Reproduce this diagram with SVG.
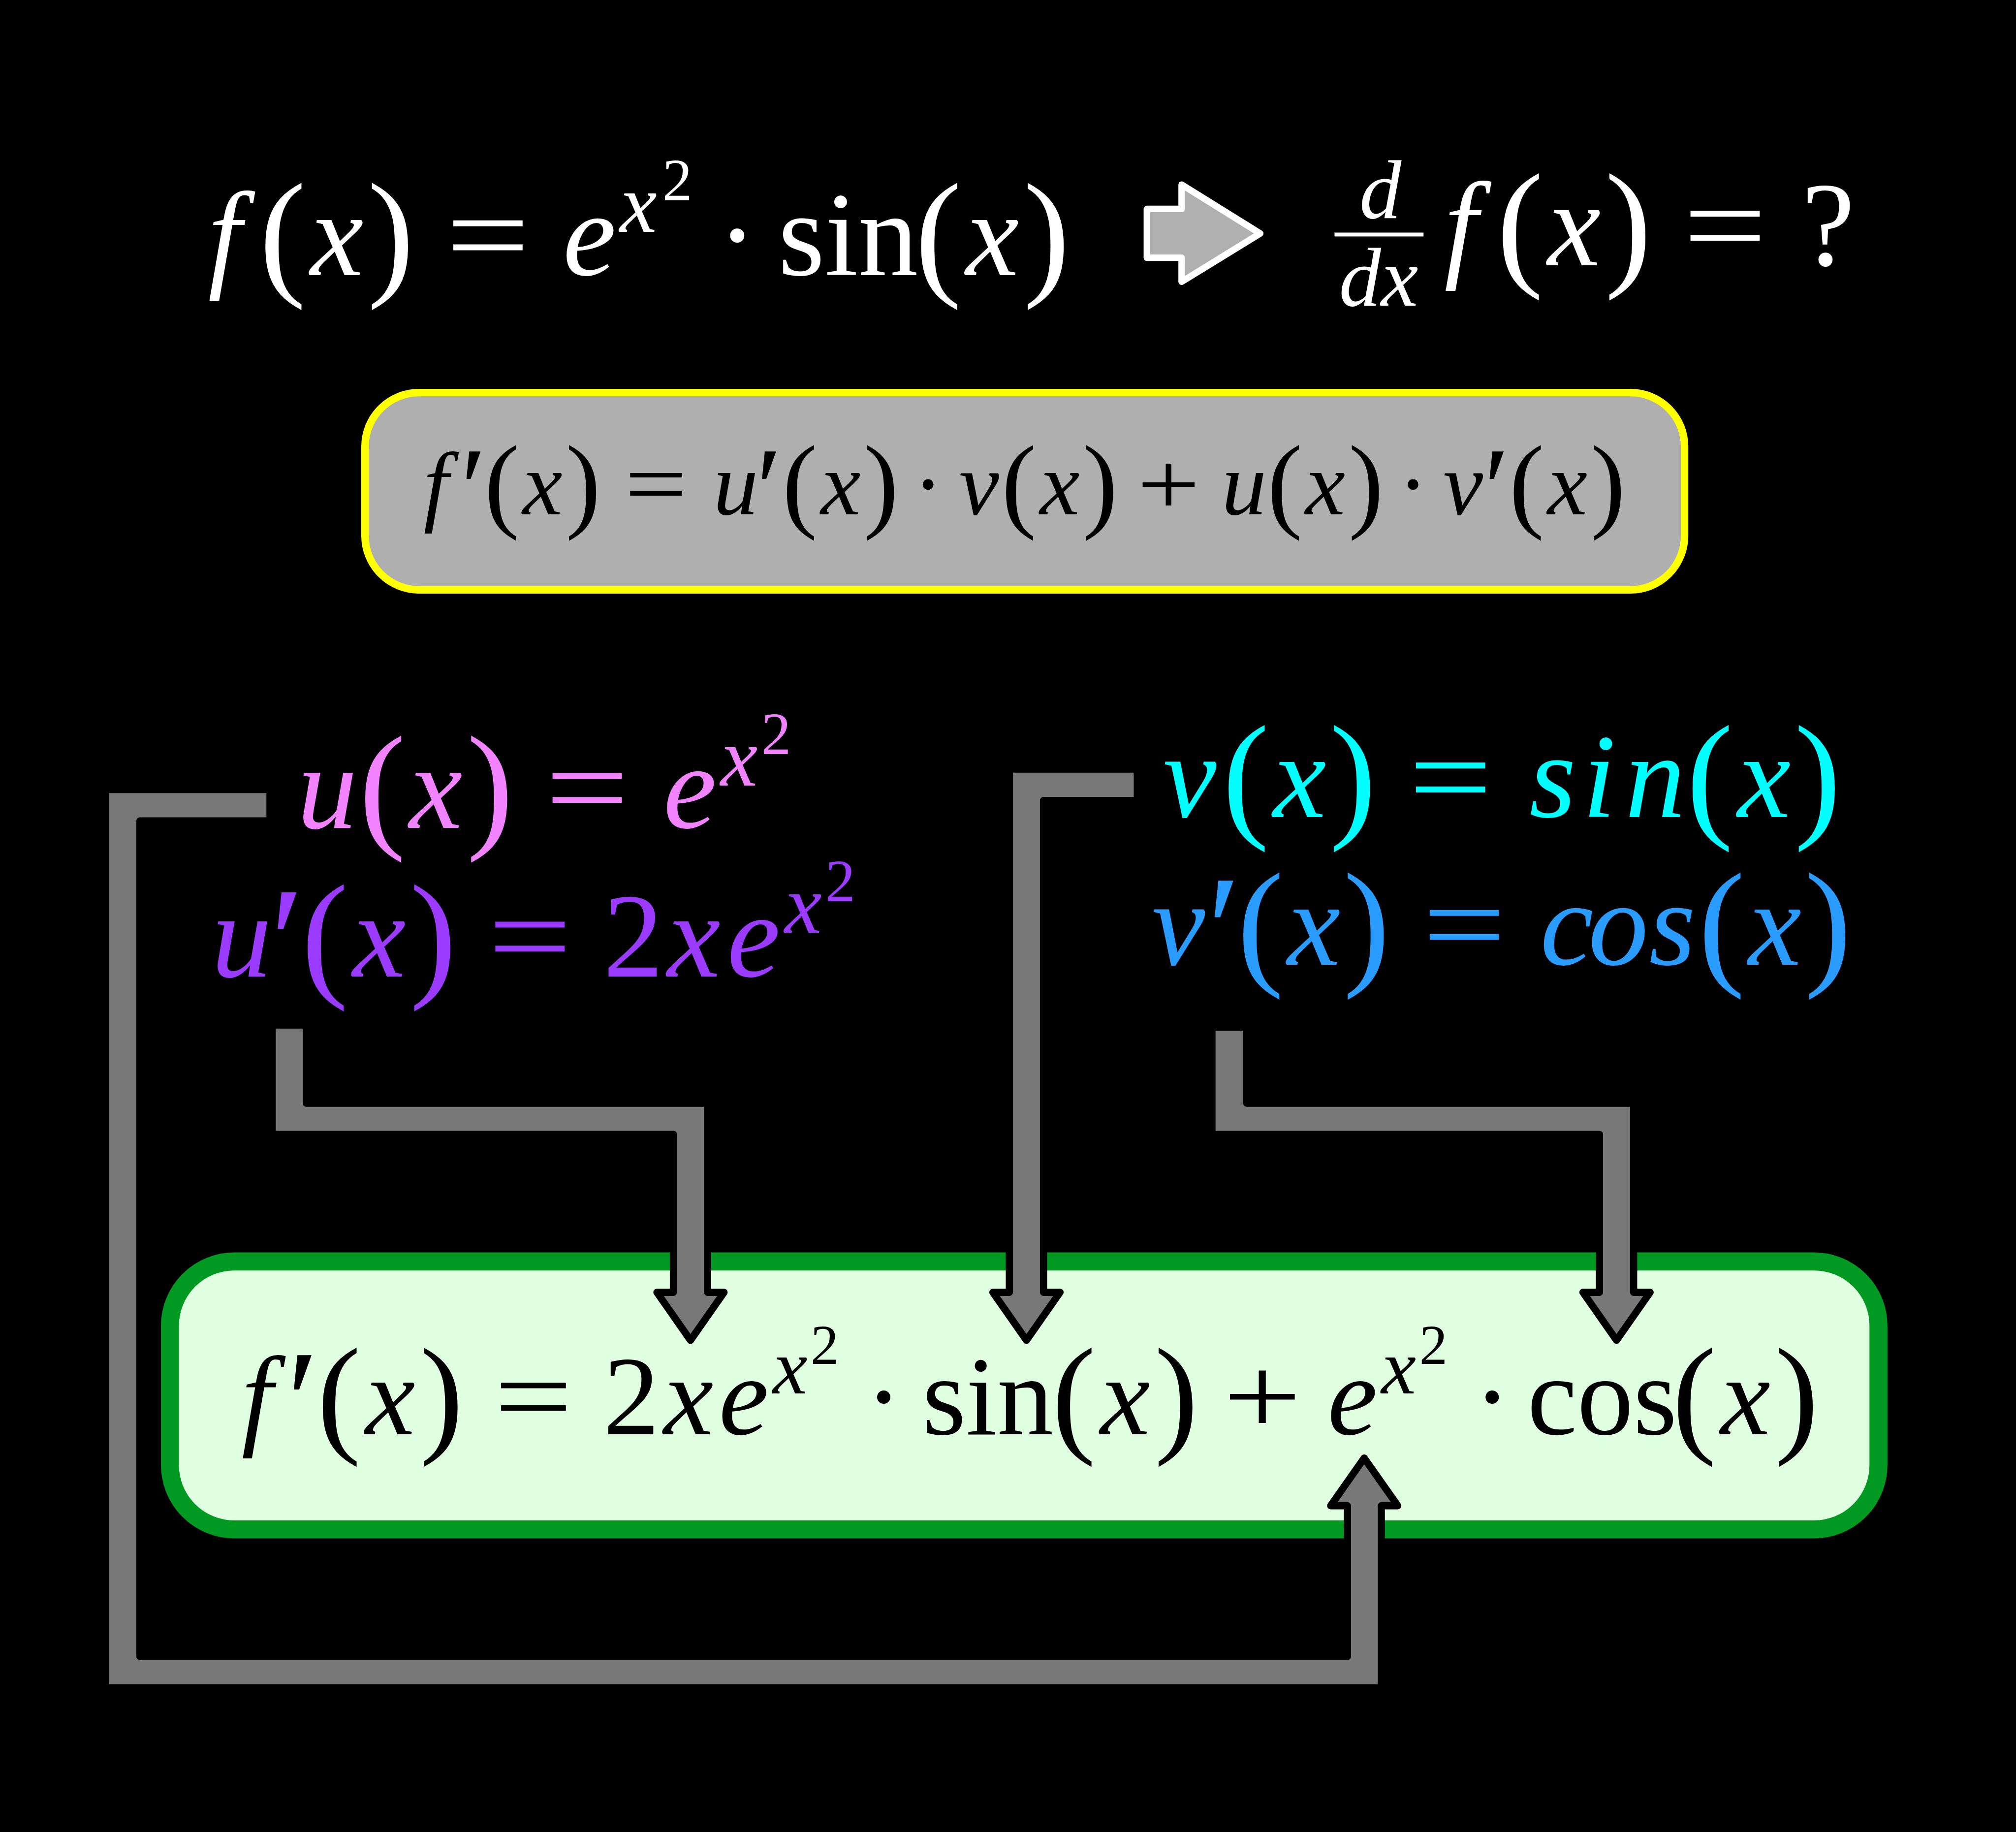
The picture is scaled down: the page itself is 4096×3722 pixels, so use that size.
<svg xmlns="http://www.w3.org/2000/svg" width="4096" height="3722" viewBox="0 0 4096 3722">
<style>
text{font-family:"Liberation Serif","DejaVu Serif",serif;text-anchor:middle}
.i{font-style:italic}
.p{font-size:1.17em}
.pr{font-size:1.3em}
.conn{fill:#787878;stroke:#000;stroke-width:24;stroke-linejoin:round}
</style>
<rect width="4096" height="3722" fill="#000"/>
<g transform="scale(0.6089)">
<g id="eq-f">
<text font-size="400" fill="#fff">
<tspan class="i" x="750" y="918">f</tspan><tspan class="p" x="943" y="935">(</tspan><tspan class="i" x="1124" y="918">x</tspan><tspan class="p" x="1304" y="935">)</tspan><tspan x="1628" y="918" textLength="280" lengthAdjust="spacingAndGlyphs">=</tspan><tspan class="i" x="1967" y="918">e</tspan><tspan class="i" x="2130" y="774" font-size="280">x</tspan><tspan x="2260" y="669" font-size="200">2</tspan><tspan x="2460" y="918">·</tspan><tspan x="2830" y="918">sin</tspan><tspan class="p" x="3131" y="935">(</tspan><tspan class="i" x="3311" y="918">x</tspan><tspan class="p" x="3492" y="935">)</tspan>
</text>
</g>
<g id="arrow-implies">
<path d="M3827,697 H3943 V616 L4205,779 L3943,940 V860 H3827 Z" fill="#b0b0b0" stroke="#fff" stroke-width="22" stroke-linejoin="round"/>
</g>
<g id="eq-derivative">
<rect x="4453" y="776" width="297" height="13" fill="#fff"/>
<text font-size="400" fill="#fff">
<tspan class="i" x="4606" y="728" font-size="280">d</tspan><tspan class="i" x="4600" y="1020" font-size="280">dx</tspan><tspan class="i" x="4875" y="886">f</tspan><tspan class="p" x="5072" y="903">(</tspan><tspan class="i" x="5252" y="886">x</tspan><tspan class="p" x="5433" y="903">)</tspan><tspan x="5756" y="886" textLength="280" lengthAdjust="spacingAndGlyphs">=</tspan><tspan x="6100" y="886">?</tspan>
</text>
</g>
<g id="product-rule">
<rect x="1218" y="1310" width="4403" height="658" rx="180" ry="180" fill="#afafaf" stroke="#ffff00" stroke-width="25"/>
<text font-size="300" fill="#000">
<tspan class="i" x="1455" y="1717">f</tspan><tspan class="pr" x="1580" y="1762">′</tspan><tspan class="p" x="1675" y="1730">(</tspan><tspan class="i" x="1810" y="1717">x</tspan><tspan class="p" x="1946" y="1730">)</tspan><tspan x="2189" y="1717" textLength="210" lengthAdjust="spacingAndGlyphs">=</tspan><tspan class="i" x="2455" y="1717">u</tspan><tspan class="pr" x="2566" y="1762">′</tspan><tspan class="p" x="2669" y="1730">(</tspan><tspan class="i" x="2805" y="1717">x</tspan><tspan class="p" x="2940" y="1730">)</tspan><tspan x="3097" y="1717">·</tspan><tspan class="i" x="3267" y="1717">v</tspan><tspan class="p" x="3400" y="1730">(</tspan><tspan class="i" x="3536" y="1717">x</tspan><tspan class="p" x="3671" y="1730">)</tspan><tspan x="3899" y="1717" textLength="210" lengthAdjust="spacingAndGlyphs">+</tspan><tspan class="i" x="4151" y="1717">u</tspan><tspan class="p" x="4287" y="1730">(</tspan><tspan class="i" x="4422" y="1717">x</tspan><tspan class="p" x="4558" y="1730">)</tspan><tspan x="4715" y="1717">·</tspan><tspan class="i" x="4882" y="1717">v</tspan><tspan class="pr" x="4994" y="1762">′</tspan><tspan class="p" x="5094" y="1730">(</tspan><tspan class="i" x="5230" y="1717">x</tspan><tspan class="p" x="5365" y="1730">)</tspan>
</text>
</g>
<g id="result">
<rect x="567" y="4209" width="5701" height="894" rx="215" ry="215" fill="#e0ffe0" stroke="#009a22" stroke-width="60"/>
<text font-size="375" fill="#000">
<tspan class="i" x="858" y="4785">f</tspan><tspan class="pr" x="1010" y="4841">′</tspan><tspan class="p" x="1131" y="4801">(</tspan><tspan class="i" x="1302" y="4785">x</tspan><tspan class="p" x="1473" y="4801">)</tspan><tspan x="1780" y="4785" textLength="262" lengthAdjust="spacingAndGlyphs">=</tspan><tspan x="2107" y="4785">2</tspan><tspan class="i" x="2297" y="4785">x</tspan><tspan class="i" x="2482" y="4785">e</tspan><tspan class="i" x="2636" y="4650" font-size="262">x</tspan><tspan x="2752" y="4551" font-size="188">2</tspan><tspan x="2949" y="4785">·</tspan><tspan x="3296" y="4785">sin</tspan><tspan class="p" x="3583" y="4801">(</tspan><tspan class="i" x="3754" y="4785">x</tspan><tspan class="p" x="3925" y="4801">)</tspan><tspan x="4212" y="4785" textLength="262" lengthAdjust="spacingAndGlyphs">+</tspan><tspan class="i" x="4513" y="4785">e</tspan><tspan class="i" x="4667" y="4650" font-size="262">x</tspan><tspan x="4783" y="4551" font-size="188">2</tspan><tspan x="4979" y="4785">·</tspan><tspan x="5346" y="4785">cos</tspan><tspan class="p" x="5653" y="4801">(</tspan><tspan class="i" x="5824" y="4785">x</tspan><tspan class="p" x="5995" y="4801">)</tspan>
</text>
</g>
<g id="connectors">
<path class="conn" d="M901,2634 H351 V5632 H4609 V5024 H4664 L4552,4865 L4440,5024 H4496 V5527 H467 V2739 H901 Z"/>
<path class="conn" d="M908,3420 H1022 V3681 H2361 V4312 H2416 L2304,4472 L2192,4312 H2247 V3785 H908 Z"/>
<path class="conn" d="M3795,2566 H3368 V4312 H3313 L3425,4472 L3537,4312 H3482 V2671 H3795 Z"/>
<path class="conn" d="M4044,3427 H4160 V3681 H5451 V4312 H5506 L5394,4472 L5282,4312 H5337 V3785 H4044 Z"/>
</g>
<g id="u">
<text font-size="400" fill="#f283ff">
<tspan class="i" x="1092" y="2762">u</tspan><tspan class="p" x="1276" y="2779">(</tspan><tspan class="i" x="1454" y="2762">x</tspan><tspan class="p" x="1635" y="2779">)</tspan><tspan x="1959" y="2762" textLength="280" lengthAdjust="spacingAndGlyphs">=</tspan><tspan class="i" x="2302" y="2762">e</tspan><tspan class="i" x="2466" y="2621" font-size="280">x</tspan><tspan x="2590" y="2516" font-size="200">2</tspan>
</text>
</g>
<g id="u-prime">
<text font-size="400" fill="#9b3bff">
<tspan class="i" x="806" y="3258">u</tspan><tspan class="pr" x="958" y="3318">′</tspan><tspan class="p" x="1084" y="3275">(</tspan><tspan class="i" x="1265" y="3258">x</tspan><tspan class="p" x="1445" y="3275">)</tspan><tspan x="1768" y="3258" textLength="280" lengthAdjust="spacingAndGlyphs">=</tspan><tspan x="2113" y="3258">2</tspan><tspan class="i" x="2315" y="3258">x</tspan><tspan class="i" x="2515" y="3258">e</tspan><tspan class="i" x="2680" y="3112" font-size="280">x</tspan><tspan x="2804" y="3007" font-size="200">2</tspan>
</text>
</g>
<g id="v">
<text font-size="400" fill="#00ffff">
<tspan class="i" x="3970" y="2727">v</tspan><tspan class="p" x="4157" y="2744">(</tspan><tspan class="i" x="4336" y="2727">x</tspan><tspan class="p" x="4514" y="2744">)</tspan><tspan x="4840" y="2727" textLength="280" lengthAdjust="spacingAndGlyphs">=</tspan><tspan class="i" x="5181" y="2727">s</tspan><tspan class="i" x="5336" y="2727">i</tspan><tspan class="i" x="5523" y="2727">n</tspan><tspan class="p" x="5705" y="2744">(</tspan><tspan class="i" x="5886" y="2727">x</tspan><tspan class="p" x="6065" y="2744">)</tspan>
</text>
</g>
<g id="v-prime">
<text font-size="400" fill="#2a9bff">
<tspan class="i" x="3932" y="3219">v</tspan><tspan class="pr" x="4084" y="3279">′</tspan><tspan class="p" x="4206" y="3236">(</tspan><tspan class="i" x="4384" y="3219">x</tspan><tspan class="p" x="4560" y="3236">)</tspan><tspan x="4886" y="3219" textLength="280" lengthAdjust="spacingAndGlyphs">=</tspan><tspan class="i" x="5228" y="3219">c</tspan><tspan class="i" x="5400" y="3219">o</tspan><tspan class="i" x="5580" y="3219">s</tspan><tspan class="p" x="5745" y="3236">(</tspan><tspan class="i" x="5922" y="3219">x</tspan><tspan class="p" x="6100" y="3236">)</tspan>
</text>
</g>
</g>
</svg>
